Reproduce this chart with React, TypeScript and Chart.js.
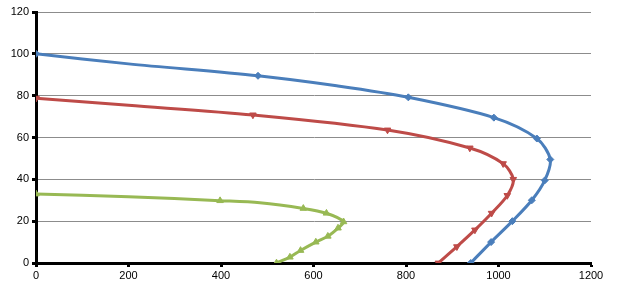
import React, { useEffect, useRef } from "react";
import { Chart, registerables } from "chart.js";

Chart.register(...registerables);

const xTicks = [0, 200, 400, 600, 800, 1000, 1200];
const yTicks = [0, 20, 40, 60, 80, 100, 120];

const blueX = [0, 200, 480, 650, 805, 990, 1083, 1112, 1100, 1072, 1030, 984, 940];
const blueY = [100, 95.2, 89.5, 84.7, 79.2, 69.5, 59.5, 49.5, 39.5, 30, 20, 10, 0];
const blueMarked = [1, 0, 1, 0, 1, 1, 1, 1, 1, 1, 1, 1, 1];

const redX = [0, 200, 469, 760, 938, 1010, 1032, 1019, 985, 949, 910, 870];
const redY = [78.8, 75.4, 70.8, 63.6, 55, 47.5, 40, 32.3, 23.8, 15.8, 7.8, 0];
const redMarked = [1, 0, 1, 1, 1, 1, 1, 1, 1, 1, 1, 1];

const greenX = [0, 200, 398, 484, 578, 628, 665, 653, 631, 605, 572, 549, 520];
const greenY = [33, 31.7, 29.8, 28.8, 26.1, 23.8, 19.7, 16.7, 12.8, 10, 6, 2.8, 0];
const greenMarked = [1, 0, 1, 0, 1, 1, 1, 1, 1, 1, 1, 1, 1];

const toPts = (xs: number[], ys: number[]) => xs.map((x, i) => ({ x, y: ys[i] }));

export default function App() {
  const ref = useRef<HTMLCanvasElement | null>(null);
  useEffect(() => {
    document.body.style.margin = "0";
    if (!ref.current) return;
    const font = { family: "'Liberation Sans', Arial, sans-serif", size: 11 };
    const chart = new Chart(ref.current, {
      type: "scatter",
      data: {
        datasets: [
          {
            data: toPts(blueX, blueY),
            borderColor: "#4a7ebb",
            backgroundColor: "#4a7ebb",
            pointStyle: "rectRot",
            pointRadius: blueMarked.map((m) => (m ? 3.5 : 0)),
            borderWidth: 3,
            pointBorderWidth: 1,
            showLine: true,
            tension: 0.3,
          },
          {
            data: toPts(redX, redY),
            borderColor: "#be4b48",
            backgroundColor: "#be4b48",
            pointStyle: "triangle",
            rotation: 180,
            pointRadius: redMarked.map((m) => (m ? 3.8 : 0)),
            pointBorderWidth: 1,
            borderWidth: 3,
            showLine: true,
            tension: 0.3,
          },
          {
            data: toPts(greenX, greenY),
            borderColor: "#98b954",
            backgroundColor: "#98b954",
            pointStyle: "triangle",
            pointRadius: greenMarked.map((m) => (m ? 3.8 : 0)),
            pointBorderWidth: 1,
            borderWidth: 3,
            showLine: true,
            tension: 0.3,
          },
        ],
      },
      options: {
        animation: false,
        responsive: false,
        maintainAspectRatio: false,
        layout: { padding: { top: 12, right: 33, left: 0, bottom: 0 } },
        plugins: { legend: { display: false }, tooltip: { enabled: false } },
        scales: {
          x: {
            type: "linear",
            min: 0,
            max: 1200,
            afterBuildTicks: (s: any) => {
              s.ticks = xTicks.map((v) => ({ value: v }));
            },
            afterFit: (s: any) => {
              s.height = 29;
            },
            border: { color: "#000", width: 3 },
            grid: {
              drawOnChartArea: false,
              drawTicks: true,
              tickLength: 4,
              tickColor: "#000",
              tickWidth: 3,
            },
            ticks: { color: "#000", font, padding: 2, maxRotation: 0, callback: (v: any) => String(v) },
          },
          y: {
            type: "linear",
            min: 0,
            max: 120,
            afterBuildTicks: (s: any) => {
              s.ticks = yTicks.map((v) => ({ value: v }));
            },
            afterFit: (s: any) => {
              s.width = 36;
            },
            border: { color: "#000", width: 3 },
            grid: {
              color: (c: any) => (c.tick && c.tick.value === 0 ? "rgba(0,0,0,0)" : "#8c8c8c"),
              lineWidth: 1,
              drawTicks: true,
              tickLength: 4,
              tickColor: "#000",
              tickWidth: 3,
            },
            ticks: { color: "#000", font, padding: 3, callback: (v: any) => String(v) },
          },
        },
      },
    } as any);
    return () => chart.destroy();
  }, []);
  return <canvas ref={ref} width={624} height={292} style={{ display: "block" }} />;
}
